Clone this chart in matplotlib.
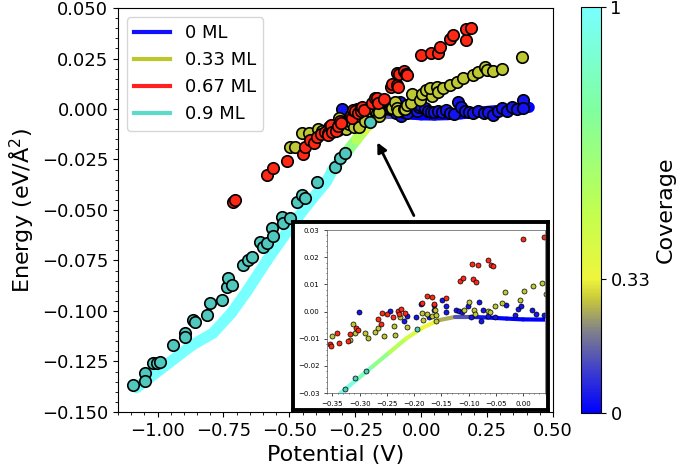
import numpy as np
import matplotlib
matplotlib.use('Agg')
from matplotlib import pyplot as plt
from matplotlib.collections import LineCollection
from matplotlib.colors import LinearSegmentedColormap, Normalize
from matplotlib.lines import Line2D
from matplotlib.ticker import MultipleLocator, AutoMinorLocator

# coverage colormap (blue -> grey -> yellow -> green -> cyan)
cov_nodes = [0.0, 0.1, 0.2, 0.28, 0.33, 0.5, 0.75, 1.0]
cov_colors = ['#0000ff', '#3c3cd0', '#80808a', '#c8c83c', '#f0f53c', '#c0ff50', '#80ffa0', '#78ffff']

# thick band: potential, energy, coverage
band_x = [-1.08, -0.96, -0.87, -0.79, -0.72, -0.66, -0.585, -0.51, -0.435, -0.36, -0.335, -0.305,
          -0.275, -0.245, -0.215, -0.185, -0.155, -0.125, -0.095, -0.065, -0.03, 0.0, 0.05, 0.1,
          0.15, 0.2, 0.25, 0.3, 0.35, 0.41]
band_y = [-0.138, -0.126, -0.117, -0.111, -0.101, -0.090, -0.075, -0.061, -0.048, -0.036, -0.030,
          -0.025, -0.020, -0.015, -0.010, -0.006, -0.0032, -0.0020, -0.0020, -0.0022, -0.0026,
          -0.0029, -0.0030, -0.0028, -0.0024, -0.0018, -0.0012, -0.0006, 0.0, 0.0008]
band_cov = [1, 1, 1, 1, 1, 1, 1, 1, 1, 1, 0.97, 0.88, 0.75, 0.6, 0.47, 0.38, 0.3, 0.2, 0.07, 0,
            0, 0, 0, 0, 0, 0, 0, 0, 0, 0]

# 0 ML
blue_x = [-0.302, -0.244, -0.218, -0.214, -0.196, -0.188, -0.173, -0.163, -0.164, -0.148, -0.142,
          -0.141, -0.124, -0.118, -0.112, -0.101, -0.095, -0.081, -0.078, -0.074, -0.065, -0.052,
          -0.031, -0.015, -0.009, -0.003, 0.016, 0.024, 0.039,
          0.05, 0.065, 0.08, 0.095, 0.11, 0.125, 0.14, 0.15, 0.165, 0.18, 0.197, 0.215, 0.238,
          0.255, 0.273, 0.29, 0.307, 0.325, 0.345, 0.365, 0.386, 0.386]
blue_y = [-0.0001, 0.0001, -0.0035, -0.0016, -0.0022, 0.0026, -0.0020, 0.0023, 0.0005, 0.0041,
          0.0020, -0.0001, 0.0005, 0.0002, -0.0001, 0.0020, -0.0020, 0.0035, -0.0035, 0.0005,
          -0.0017, -0.0020, 0.0023, -0.0011, 0.0011, 0.0020, 0.0005, -0.0010, -0.0013,
          -0.0015, -0.001, -0.0015, -0.0005, -0.002, -0.0025, 0.0035, 0.001, -0.001, -0.0015,
          -0.002, -0.001, -0.002, -0.0015, -0.003, -0.001, 0.0005, -0.001, 0.001, 0.0, 0.0045,
          0.0005]

# 0.33 ML
yel_x = [-0.497, -0.479, -0.452, -0.425, -0.391, -0.375,
         -0.350, -0.312, -0.308, -0.317, -0.291, -0.285, -0.272, -0.267, -0.255, -0.237, -0.235,
         -0.226, -0.214, -0.185, -0.184, -0.177, -0.167, -0.162, -0.160, -0.160, -0.109, -0.100,
         -0.091, -0.088, -0.065, -0.060, -0.052, -0.039, -0.034, -0.006, 0.002, 0.018, 0.042,
         0.034, 0.060, 0.064, 0.083, 0.109, 0.136, 0.159, 0.197, 0.216, 0.242, 0.250, 0.273,
         0.307, 0.383]
yel_y = [-0.0188, -0.0188, -0.0119, -0.0119, -0.0099, -0.0110,
         -0.0090, -0.0046, -0.0080, -0.0105, -0.0080, -0.0099, -0.0074, -0.0062, -0.0090, -0.0054,
         -0.0087, -0.0022, -0.0058, -0.0005, -0.0032, -0.0010, -0.0018, 0.0005, -0.0035, -0.0013,
         0.0005, 0.0035, 0.0007, -0.0008, 0.0002, -0.0002, 0.0020, 0.0032, 0.0072, 0.0044,
         0.0074, 0.0093, 0.0066,
         0.0104, 0.0109, 0.0084, 0.0104, 0.0119, 0.0134, 0.0153, 0.0168, 0.0183, 0.0208, 0.0193,
         0.0188, 0.0198, 0.0257]

# 0.67 ML
red_x = [-0.714, -0.706, -0.585, -0.562, -0.509, -0.448, -0.44, -0.422, -0.406, -0.395, -0.38,
         -0.365,
         -0.354, -0.353, -0.341, -0.338, -0.322, -0.317, -0.307, -0.303, -0.267, -0.261, -0.259,
         -0.250, -0.238, -0.229, -0.228, -0.224, -0.217, -0.186, -0.177, -0.167, -0.164, -0.142,
         -0.116, -0.110, -0.093, -0.092, -0.087, -0.083, -0.065, -0.059, -0.055, 0.000, 0.038,
         0.064, 0.072, 0.109, 0.121, 0.170, 0.170, 0.189]
red_y = [-0.046, -0.045, -0.0327, -0.0292, -0.0257, -0.0223, -0.0188, -0.0153, -0.0168, -0.0139,
         -0.0125, -0.0114,
         -0.0121, -0.0127, -0.0078, -0.0115, -0.0107, -0.0083, -0.0059, -0.0068, -0.0029, -0.0046,
         -0.0005, -0.0010, -0.0020, 0.0003, -0.0010, 0.0008, -0.0005, 0.0031, 0.0056, 0.0052,
         0.0028, 0.0048, 0.0111, 0.0123, 0.0176, 0.0119, 0.0109, 0.0172, 0.0190, 0.0172, 0.0167,
         0.0268, 0.0276,
         0.0277, 0.0307, 0.0347, 0.0366, 0.0342, 0.0396, 0.0401]

# 0.9 ML
teal_x = [-1.093, -1.048, -1.048, -1.017, -1.002, -0.991, -0.941, -0.896, -0.896, -0.865, -0.858,
          -0.812, -0.801, -0.755, -0.737, -0.733, -0.718, -0.676, -0.657, -0.642, -0.611, -0.600,
          -0.585, -0.566, -0.562, -0.528, -0.524, -0.497, -0.471, -0.452, -0.441, -0.395, -0.327,
          -0.308, -0.289, -0.194]
teal_y = [-0.1366, -0.1307, -0.1347, -0.1257, -0.1257, -0.1252, -0.1168, -0.1109, -0.1129, -0.1045,
          -0.1054, -0.1020, -0.0960, -0.0946, -0.0881, -0.0837, -0.0871, -0.0772, -0.0748, -0.0733,
          -0.0658, -0.0683, -0.0663, -0.0589, -0.0629, -0.0535, -0.0564, -0.0540, -0.0460, -0.0426,
          -0.0441, -0.0361, -0.0287, -0.0243, -0.0218, -0.0065]

labels = ['0 ML', '0.33 ML', '0.67 ML', '0.9 ML']
pt_colors = ['#1414f0', '#bec832', '#ff2814', '#50c8be']
leg_colors = ['#1010ff', '#bcc82a', '#ff2020', '#5adcc8']

cmap = LinearSegmentedColormap.from_list('cov', list(zip(cov_nodes, cov_colors)))
norm = Normalize(0, 1)


def draw(ax, lw_band, s, elw):
    pts = np.column_stack([band_x, band_y])
    segs = np.stack([pts[:-1], pts[1:]], axis=1)
    cvals = [(band_cov[i] + band_cov[i + 1]) / 2 for i in range(len(band_cov) - 1)]
    lc = LineCollection(segs, cmap=cmap, norm=norm, linewidths=lw_band, capstyle='round',
                        joinstyle='round', zorder=1)
    lc.set_array(np.array(cvals))
    ax.add_collection(lc)
    series = [(blue_x, blue_y), (yel_x, yel_y), (red_x, red_y), (teal_x, teal_y)]
    for (x, y), c in zip(series, pt_colors):
        ax.scatter(x, y, s=s, c=c, edgecolors='black', linewidths=elw, zorder=2)


fig = plt.figure(figsize=(6.85, 4.71), dpi=100)
ax = fig.add_axes([0.1723, 0.1253, 0.635, 0.8577])
draw(ax, 8, 68, 1.2)
ax.set_xlim(-1.15, 0.5)
ax.set_ylim(-0.15, 0.05)
ax.xaxis.set_major_locator(MultipleLocator(0.25))
ax.xaxis.set_minor_locator(MultipleLocator(0.05))
ax.yaxis.set_major_locator(MultipleLocator(0.025))
ax.yaxis.set_minor_locator(MultipleLocator(0.005))
ax.tick_params(labelsize=13)
ax.set_xlabel('Potential (V)', fontsize=16)
ax.set_ylabel('Energy (eV/Å$^2$)', fontsize=16)

handles = [Line2D([], [], color=c, lw=3) for c in leg_colors]
ax.legend(handles, labels, loc='upper left', fontsize=13)

ax.annotate('', xy=(-0.171, -0.0153), xytext=(-0.023, -0.054),
            arrowprops=dict(arrowstyle='-|>', color='black', lw=2, mutation_scale=14))

# inset frame
frame = fig.add_axes([0.4277, 0.1295, 0.372, 0.399])
frame.set_xticks([])
frame.set_yticks([])
for sp in frame.spines.values():
    sp.set_linewidth(2.8)
    sp.set_color('black')

ins = fig.add_axes([0.4774, 0.1656, 0.318, 0.346])
draw(ins, 3, 13, 0.5)
ins.set_xlim(-0.36, 0.04)
ins.set_ylim(-0.03, 0.03)
ins.xaxis.set_major_locator(MultipleLocator(0.05))
ins.yaxis.set_major_locator(MultipleLocator(0.01))
ins.xaxis.set_minor_locator(AutoMinorLocator())
ins.yaxis.set_minor_locator(AutoMinorLocator())
ins.tick_params(labelsize=5, length=2, width=0.5)
ins.tick_params(which='minor', length=1, width=0.4)
for sp in ins.spines.values():
    sp.set_linewidth(0.5)
    sp.set_color('#555555')

cax = fig.add_axes([0.848, 0.123, 0.029, 0.862])
sm = plt.cm.ScalarMappable(cmap=cmap, norm=norm)
cb = fig.colorbar(sm, cax=cax, ticks=[0, 0.33, 1])
cb.ax.set_yticklabels(['0', '0.33', '1'])
cb.ax.tick_params(labelsize=13)
cb.set_label('Coverage', fontsize=16)

plt.savefig('out.png', dpi=100)
plt.close(fig)
